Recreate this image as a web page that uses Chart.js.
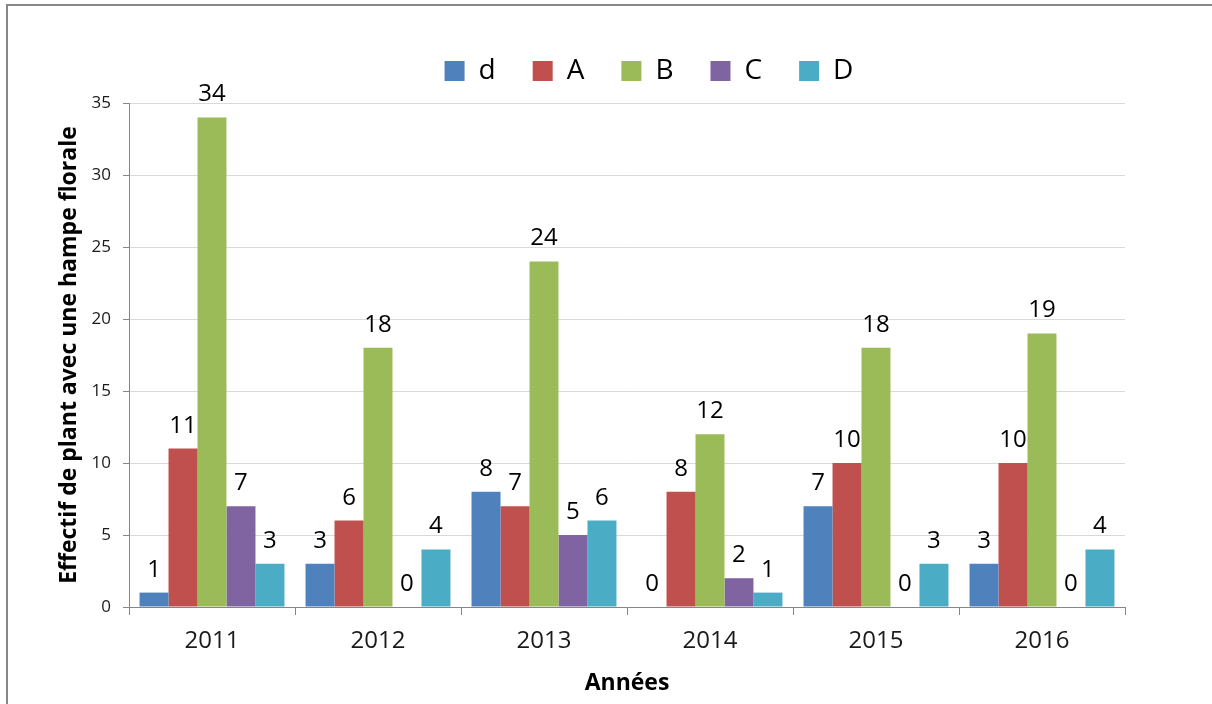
<!DOCTYPE html>
<html>
<head>
<meta charset="utf-8">
<script src="https://cdn.jsdelivr.net/npm/chart.js@4"></script>
<style>
  html, body { margin: 0; padding: 0; background: #fff; }
  #wrap { position: relative; width: 1212px; height: 704px; }
</style>
</head>
<body>
<div id="wrap"><canvas id="c" width="1212" height="704"></canvas></div>
<script>
// ---- data ----
const categories = ['2011', '2012', '2013', '2014', '2015', '2016'];
const seriesNames = ['d', 'A', 'B', 'C', 'D'];
const valuesD_lower = [1, 3, 8, 0, 7, 3];
const valuesA = [11, 6, 7, 8, 10, 10];
const valuesB = [34, 18, 24, 12, 18, 19];
const valuesC = [7, 0, 5, 2, 0, 0];
const valuesD = [3, 4, 6, 1, 3, 4];
const yTickMax = 35;
const yTickStep = 5;
const yTitle = 'Effectif de plant avec une hampe florale';
const xTitle = 'Années';

const colors = ['#4F81BD', '#C0504D', '#9BBB59', '#8064A2', '#4BACC6'];
const seriesValues = [valuesD_lower, valuesA, valuesB, valuesC, valuesD];

const FONT = "'Open Sans', 'DejaVu Sans', sans-serif";

const frameAndLegendPlugin = {
  id: 'frameAndLegend',
  beforeInit(chart) {
    const lg = chart.legend;
    if (lg) {
      const origFit = lg.fit.bind(lg);
      lg.fit = function () { origFit(); this.height = 103; };
    }
  },
  afterLayout(chart) {
    const lg = chart.legend;
    if (!lg || !lg.lineWidths) return;
    const pad = lg.options.labels.padding;
    const start = (lg.left + pad + lg.right - lg.lineWidths[0]) / 2;
    const targetCenter = 649;
    const curCenter = start + (lg.lineWidths[0] - pad) / 2;
    const dx = targetCenter - curCenter;
    lg.left += dx; lg.right += dx;
    lg.top = 20; lg.bottom = lg.top + lg.height;
  },
  beforeDraw(chart) {
    const ctx = chart.ctx;
    ctx.save();
    ctx.fillStyle = '#ffffff';
    ctx.fillRect(0, 0, chart.width, chart.height);
    ctx.fillStyle = '#878787';
    ctx.fillRect(6, 4, 2, chart.height - 4);
    ctx.fillRect(6, 4, chart.width - 6, 2);
    ctx.restore();
  }
};

const valueLabelPlugin = {
  id: 'valueLabels',
  afterDatasetsDraw(chart) {
    const ctx = chart.ctx;
    ctx.save();
    ctx.font = "24px " + FONT;
    ctx.fillStyle = '#000';
    ctx.textAlign = 'center';
    ctx.textBaseline = 'alphabetic';
    chart.data.datasets.forEach((ds, i) => {
      const meta = chart.getDatasetMeta(i);
      meta.data.forEach((bar, j) => {
        ctx.fillText(String(ds.data[j]), bar.x, bar.y - 16);
      });
    });
    ctx.restore();
  }
};

new Chart(document.getElementById('c'), {
  type: 'bar',
  data: {
    labels: categories,
    datasets: seriesNames.map((name, i) => ({
      label: name,
      data: seriesValues[i],
      backgroundColor: colors[i],
      borderWidth: 0,
      categoryPercentage: 0.873,
      barPercentage: 1.0
    }))
  },
  options: {
    responsive: false,
    animation: false,
    layout: { padding: { left: 0, right: 87, top: 0, bottom: 0 } },
    plugins: {
      tooltip: { enabled: false },
      legend: {
        position: 'top',
        labels: {
          boxWidth: 20,
          boxHeight: 20,
          padding: 37,
          color: '#000',
          font: { family: FONT, size: 28 }
        }
      }
    },
    scales: {
      x: {
        grid: {
          offset: true,
          drawOnChartArea: false,
          color: '#868686',
          tickColor: '#868686',
          tickLength: 8
        },
        border: { color: '#868686', width: 1 },
        ticks: { color: '#1a1a1a', padding: 12, font: { family: FONT, size: 24 } },
        title: {
          display: true,
          text: xTitle,
          color: '#000',
          padding: { top: 0, bottom: 7 },
          font: { family: FONT, size: 23, weight: 'bold' }
        },
        afterFit(scale) { scale.height = 97; }
      },
      y: {
        min: 0,
        max: yTickMax,
        ticks: { stepSize: yTickStep, color: '#1a1a1a', padding: 12, font: { family: FONT, size: 17 } },
        grid: { color: '#d9d9d9', tickColor: '#868686', tickLength: 6 },
        border: { color: '#868686', width: 1 },
        title: {
          display: true,
          text: yTitle,
          color: '#000',
          padding: { top: 56, bottom: 0 },
          font: { family: FONT, size: 23, weight: 'bold' }
        },
        afterFit(scale) { scale.width = 129; }
      }
    }
  },
  plugins: [frameAndLegendPlugin, valueLabelPlugin]
});
</script>
</body>
</html>
